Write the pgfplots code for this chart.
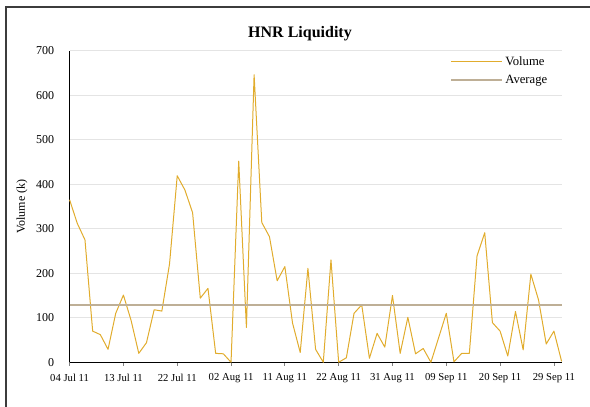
\documentclass[border=0pt]{standalone}
\usepackage{fontspec}
\setmainfont{Liberation Serif}
\usepackage{pgfplots}
\pgfplotsset{compat=1.18}
\definecolor{volcol}{RGB}{225,172,45}
\definecolor{avgcol}{RGB}{190,175,150}
\definecolor{gridcol}{RGB}{228,228,228}
\definecolor{framecol}{RGB}{60,60,60}
\begin{document}
\begin{tikzpicture}
\begin{axis}[
  name=ax,
  width=369pt, height=233.7pt, scale only axis,
  xmin=0, xmax=64, ymin=0, ymax=700,
  axis x line*=bottom, axis y line*=left,
  axis line style={black, line width=1.1pt},
  xtick={0,7,14,21,28,35,42,49,56,63},
  xticklabels={04 Jul 11,13 Jul 11,22 Jul 11,02 Aug 11,11 Aug 11,22 Aug 11,31 Aug 11,09 Sep 11,20 Sep 11,29 Sep 11},
  x tick style={gray, line width=0.6pt},
  tick align=outside,
  x tick label style={font=\fontsize{8}{9}\selectfont, yshift=-2.5pt},
  ytick={0,100,...,700},
  y tick style={draw=none},
  major tick length=2.5pt,
  y tick label style={font=\fontsize{9}{10}\selectfont, xshift=-5.5pt},
  /pgf/number format/assume math mode=true,
  ymajorgrids, grid style={gridcol, line width=0.8pt},
  ylabel={Volume (k)},
  ylabel style={at={(axis description cs:-0.0967,0.5)}, anchor=center, font=\fontsize{9}{10}\selectfont},
  legend style={draw=none, fill=none, at={(axis description cs:0.985,1.0)}, anchor=north east,
    font=\fontsize{9.5}{11}\selectfont, row sep=1.8pt, legend cell align=left},
  legend image code/.code={\draw[#1] (0pt,0pt) -- (38pt,0pt);},
  clip=false,
]
\addplot[volcol, line width=0.75pt, line join=round] coordinates {
(0,365) (1,312) (2,275) (3,70) (4,62) (5,29) (6,110) (7,151) (8,94) (9,20)
(10,44) (11,118) (12,115) (13,221) (14,419) (15,387) (16,336) (17,144) (18,166) (19,20)
(20,19) (21,0) (22,452) (23,78) (24,646) (25,314) (26,282) (27,183) (28,215) (29,88)
(30,22) (31,211) (32,29) (33,0) (34,230) (35,0) (36,10) (37,110) (38,129) (39,9)
(40,65) (41,34) (42,150) (43,20) (44,101) (45,19) (46,31) (47,0) (48,55) (49,110)
(50,1) (51,20) (52,20) (53,239) (54,291) (55,89) (56,70) (57,14) (58,114) (59,28)
(60,198) (61,140) (62,41) (63,70) (64,2)
};
\addlegendentry{Volume}
\addplot[avgcol, line width=1.2pt] coordinates {(0,129.3) (64,129.3)};
\addlegendentry{Average}
\end{axis}
\node[anchor=base, font=\bfseries\fontsize{12}{14}\selectfont] at ([xshift=172.8pt, yshift=9.9pt]ax.north west) {HNR Liquidity};
\pgfresetboundingbox
\path[use as bounding box] ([xshift=-52.2pt, yshift=-32.8pt]ax.south west) rectangle ([xshift=21.3pt, yshift=38pt]ax.north east);
\draw[framecol, line width=1.3pt] ([xshift=-47.85pt, yshift=-40pt]ax.south west) -- ([xshift=-47.85pt, yshift=32.5pt]ax.north west) -- ([xshift=30pt, yshift=32.5pt]ax.north east);
\end{tikzpicture}
\end{document}
